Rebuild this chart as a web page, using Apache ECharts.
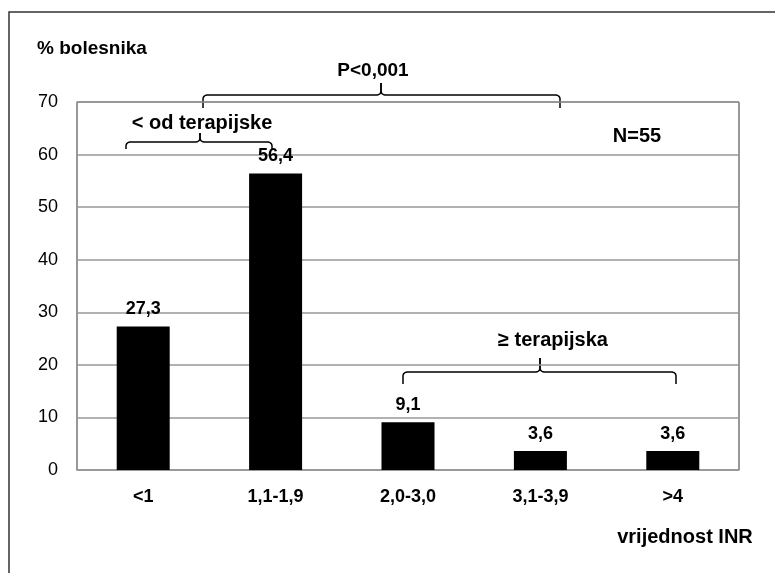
<!DOCTYPE html>
<html>
<head>
<meta charset="utf-8">
<script src="https://cdn.jsdelivr.net/npm/echarts@6/dist/echarts.min.js"></script>
<style>
html,body{margin:0;padding:0;background:#fff;}
#c{width:775px;height:573px;}
</style>
</head>
<body>
<div id="c"></div>
<script>
const categories = ['<1', '1,1-1,9', '2,0-3,0', '3,1-3,9', '>4'];
const values = [27.3, 56.4, 9.1, 3.6, 3.6];
const valueLabels = ['27,3', '56,4', '9,1', '3,6', '3,6'];
const yTicks = [0, 10, 20, 30, 40, 50, 60, 70];

const FONT = '"Liberation Sans", Arial, sans-serif';

// build a curly-bracket outline as point list (quarter-circle corners)
function arcPts(cx, cy, r, a0, a1) {
  const pts = [];
  const n = 6;
  for (let i = 0; i <= n; i++) {
    const a = a0 + (a1 - a0) * i / n;
    pts.push([cx + r * Math.cos(a), cy + r * Math.sin(a)]);
  }
  return pts;
}
function braceParts(x1, x2, xm, y, yEnd, yTop) {
  const r = 4;
  const P = Math.PI;
  const left = [[x1, yEnd]]
    .concat(arcPts(x1 + r, y + r, r, P, 1.5 * P))
    .concat(arcPts(xm - r, y - r, r, 0.5 * P, 0))
    .concat([[xm, yTop]]);
  const right = [[xm, yTop]]
    .concat(arcPts(xm + r, y - r, r, P, 0.5 * P))
    .concat(arcPts(x2 - r, y + r, r, 1.5 * P, 2 * P))
    .concat([[x2, yEnd]]);
  return [left, right].map(function (pts) {
    return { type: 'polyline', shape: { points: pts }, style: { fill: null, stroke: '#000', lineWidth: 1.5 }, silent: true };
  });
}

function txt(x, y, s, size, align) {
  return {
    type: 'text', x: x, y: y, silent: true,
    style: { text: s, font: 'bold ' + size + 'px ' + FONT, fill: '#000', align: align || 'center', verticalAlign: 'middle' }
  };
}

const graphics = [
  { type: 'rect', shape: { x: 9, y: 12, width: 900, height: 700 }, style: { fill: null, stroke: '#333', lineWidth: 1.5 }, silent: true },
  txt(37, 49, '% bolesnika', 19, 'left'),
  txt(373, 71, 'P<0,001', 19),
  txt(202, 123, '< od terapijske', 20),
  txt(637, 136, 'N=55', 20),
  txt(553, 340, '≥ terapijska', 20),
  txt(685, 537, 'vrijednost INR', 20)
].concat(braceParts(126, 272, 200, 142, 149, 133))
 .concat(braceParts(203, 560, 381, 95, 108, 83))
 .concat(braceParts(403, 676, 540, 372, 384, 358));

const chart = echarts.init(document.getElementById('c'));
chart.setOption({
  animation: false,
  backgroundColor: '#fff',
  grid: { left: 77, right: 36, top: 102, bottom: 103, show: true, borderColor: '#333', borderWidth: 1, backgroundColor: 'transparent' },
  xAxis: {
    type: 'category',
    data: categories,
    axisLine: { show: true, lineStyle: { color: '#999', width: 1.5 } },
    axisTick: { show: false },
    axisLabel: { color: '#000', fontFamily: FONT, fontWeight: 'bold', fontSize: 18, margin: 18 }
  },
  yAxis: {
    type: 'value',
    min: yTicks[0], max: yTicks[yTicks.length - 1], interval: 10,
    axisLine: { show: true, lineStyle: { color: '#999', width: 1.5 } },
    axisTick: { show: false },
    splitLine: { lineStyle: { color: '#999', width: 1.5 } },
    axisLabel: { color: '#000', fontFamily: FONT, fontSize: 18, margin: 19 }
  },
  series: [{
    type: 'bar',
    data: values,
    barWidth: 53,
    itemStyle: { color: '#000' },
    label: {
      show: true, position: 'top', distance: 8,
      color: '#000', fontFamily: FONT, fontWeight: 'bold', fontSize: 18,
      formatter: function (p) { return valueLabels[p.dataIndex]; }
    }
  }],
  graphic: graphics
});
</script>
</body>
</html>
